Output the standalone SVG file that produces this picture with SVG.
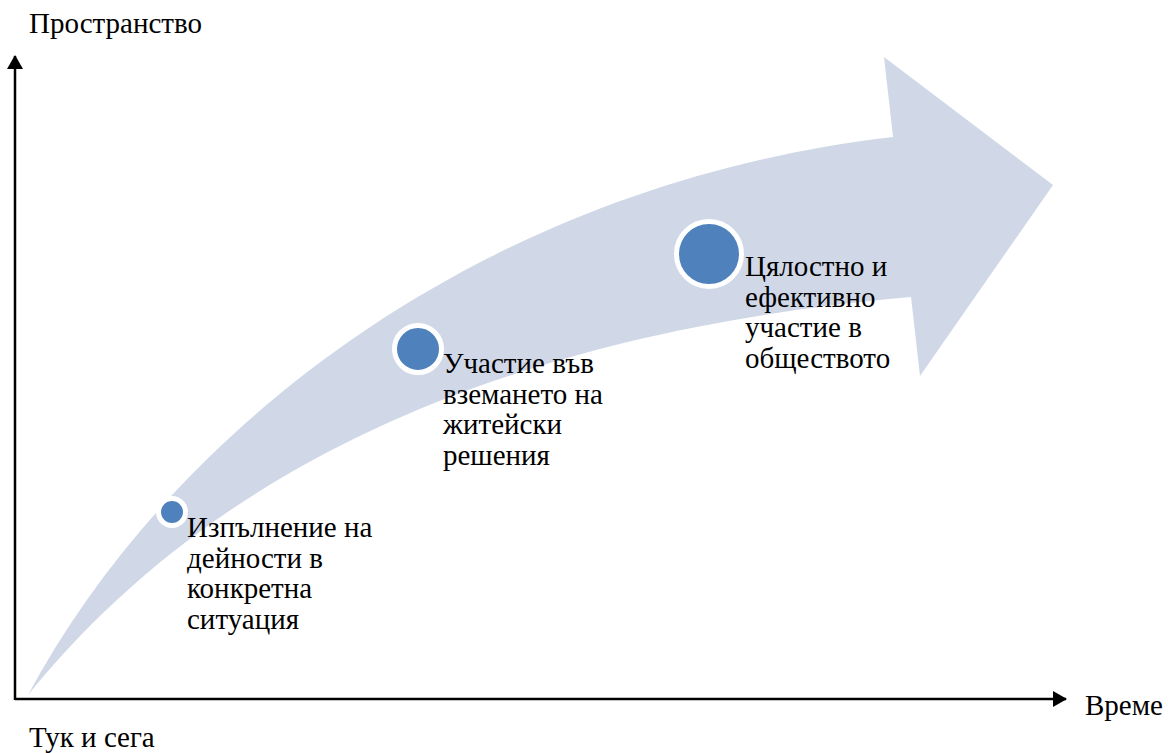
<svg xmlns="http://www.w3.org/2000/svg" width="1168" height="753" viewBox="0 0 1168 753">
<defs>
<style>
.t{font-family:'Liberation Serif','Times New Roman','DejaVu Serif',serif;font-size:29px;fill:#000}
.ring{fill:#4F81BD;stroke:#fff;stroke-width:5}
.axis{stroke:#000;stroke-width:2.5;fill:none}
</style>
<marker id="ah" viewBox="0 0 14 16" refX="13" refY="8" markerWidth="14" markerHeight="16" markerUnits="userSpaceOnUse" orient="auto">
<path d="M0,0 L14,8 L0,16 Z" fill="#000"/>
</marker>
</defs>
<rect width="1168" height="753" fill="#fff"/>
<g id="band">
<path d="M28,695 C170,430 480,185 893,137 L884,57 L1053,185 L920,376 L911,297 C420,340 170,520 28,695 Z" fill="#D0D8E8"/>
</g>
<g id="connectors">
<path class="axis" d="M15,700 L15,56" marker-end="url(#ah)"/>
<path class="axis" d="M15,699 L1066,699" marker-end="url(#ah)"/>
</g>
<g id="axis-labels" font-family="Liberation Serif, serif">
<text class="t" x="29" y="33">Пространство</text>
<text class="t" x="29" y="747">Тук и сега</text>
<text class="t" x="1085" y="715">Време</text>
</g>
<g id="node1" font-family="Liberation Serif, serif">
<circle class="ring" cx="172" cy="512" r="13.5"/>
<text class="t"><tspan x="187" y="537">Изпълнение на</tspan><tspan x="187" y="567.5">дейности в</tspan><tspan x="187" y="598">конкретна</tspan><tspan x="187" y="628.5">ситуация</tspan></text>
</g>
<g id="node2" font-family="Liberation Serif, serif">
<circle class="ring" cx="418" cy="349" r="23.5"/>
<text class="t"><tspan x="443" y="373">Участие във</tspan><tspan x="443" y="403.5">вземането на</tspan><tspan x="443" y="434">житейски</tspan><tspan x="443" y="464.5">решения</tspan></text>
</g>
<g id="node3" font-family="Liberation Serif, serif">
<circle class="ring" cx="709" cy="254" r="32.5"/>
<text class="t"><tspan x="745" y="276">Цялостно и</tspan><tspan x="745" y="306.5">ефективно</tspan><tspan x="745" y="337">участие в</tspan><tspan x="745" y="367.5">обществото</tspan></text>
</g>
</svg>
